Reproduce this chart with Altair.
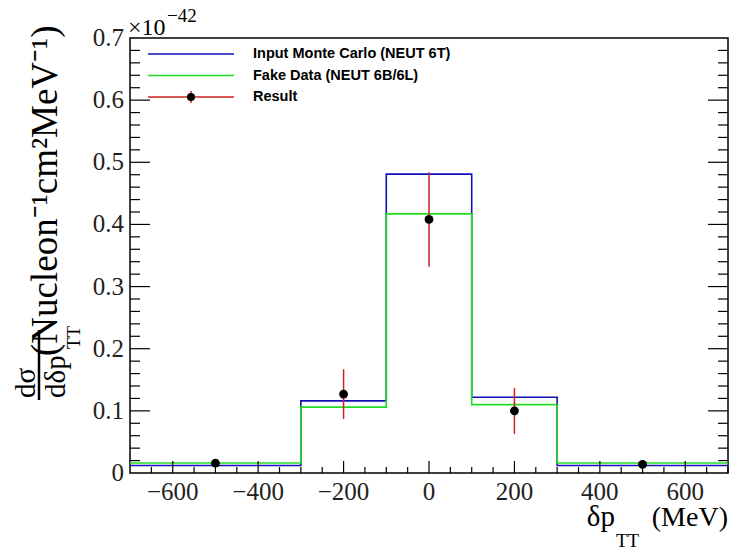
import altair as alt
import pandas as pd
import numpy as np

# ---------------- data (units of 1e-42) ----------------
bin_edges = [-700, -300, -100, 100, 300, 700]
mc_values = [0.012, 0.116, 0.481, 0.122, 0.012]      # Input Monte Carlo (NEUT 6T)
fake_values = [0.016, 0.106, 0.417, 0.110, 0.016]    # Fake Data (NEUT 6B/6L)
result_x = [-500, -200, 0, 200, 500]
result_y = [0.016, 0.127, 0.408, 0.100, 0.014]
result_lo = [0.013, 0.087, 0.332, 0.063, 0.011]
result_hi = [0.019, 0.167, 0.484, 0.137, 0.017]

x_tick_labels = [-600, -400, -200, 0, 200, 400, 600]
y_tick_labels = [0, 0.1, 0.2, 0.3, 0.4, 0.5, 0.6, 0.7]
x_minor_ticks = list(range(-650, 701, 50))
y_minor_ticks = [round(v, 2) for v in np.arange(0.02, 0.7, 0.02)]

legend_labels = ["Input Monte Carlo (NEUT 6T)", "Fake Data (NEUT 6B/6L)", "Result"]
legend_colors = ["#1010b8", "#22dd22", "#cc2222"]

# ---------------- layout ----------------
W, H = 598, 435
SERIF = "Liberation Serif"
xs = alt.Scale(domain=[-700, 700], nice=False, zero=False)
ys = alt.Scale(domain=[0, 0.7], nice=False, zero=False)
LABEL_COLOR = "#222"


def step_df(vals):
    return pd.DataFrame({"x": bin_edges, "y": vals + [vals[-1]]})


mc_line = alt.Chart(step_df(mc_values)).mark_line(
    interpolate="step-after", color=legend_colors[0], strokeWidth=1.6
).encode(x=alt.X("x:Q", scale=xs, axis=None), y=alt.Y("y:Q", scale=ys, axis=None))

fake_line = alt.Chart(step_df(fake_values)).mark_line(
    interpolate="step-after", color=legend_colors[1], strokeWidth=1.6
).encode(x=alt.X("x:Q", scale=xs, axis=None), y=alt.Y("y:Q", scale=ys, axis=None))

res_df = pd.DataFrame({"x": result_x, "y": result_y, "lo": result_lo, "hi": result_hi})
err = alt.Chart(res_df).mark_rule(color=legend_colors[2], strokeWidth=1.5).encode(
    x=alt.X("x:Q", scale=xs, axis=None),
    y=alt.Y("lo:Q", scale=ys, axis=None), y2="hi:Q")
pts = alt.Chart(res_df).mark_circle(size=78, color="black", opacity=1).encode(
    x=alt.X("x:Q", scale=xs, axis=None), y=alt.Y("y:Q", scale=ys, axis=None))


# ---------------- inward ticks ----------------
def yticks(vals, length, side):
    d = pd.DataFrame({"v": vals})
    if side == "left":
        xa, xb = 0, length
    else:
        xa, xb = W, W - length
    return alt.Chart(d).mark_rule(color="black", strokeWidth=1.2).encode(
        y=alt.Y("v:Q", scale=ys, axis=None), x=alt.value(xa), x2=alt.value(xb))


def xticks(vals, length):
    d = pd.DataFrame({"v": vals})
    return alt.Chart(d).mark_rule(color="black", strokeWidth=1.2).encode(
        x=alt.X("v:Q", scale=xs, axis=None), y=alt.value(H), y2=alt.value(H - length))


x_major = list(x_tick_labels)
x_minor = [v for v in x_minor_ticks if v not in x_tick_labels]
y_major = y_tick_labels[1:-1]
y_minor = [v for v in y_minor_ticks if abs(v * 10 - round(v * 10)) > 1e-6]

tick_layers = [
    yticks(y_major, 20, "left"), yticks(y_minor, 10, "left"),
    yticks(y_major, 20, "right"), yticks(y_minor, 10, "right"),
    xticks(x_major, 12), xticks(x_minor, 6),
]

# ---------------- tick labels ----------------
xl_df = pd.DataFrame({"v": x_tick_labels,
                      "t": [str(v).replace("-", "\u2212") for v in x_tick_labels]})
yl_df = pd.DataFrame({"v": y_tick_labels,
                      "t": ["0" if v == 0 else f"{v:.1f}" for v in y_tick_labels]})

x_labels = alt.Chart(xl_df).mark_text(
    font=SERIF, fontSize=25, color=LABEL_COLOR, align="center", baseline="alphabetic"
).encode(x=alt.X("v:Q", scale=xs, axis=None), y=alt.value(H + 27), text="t:N")

y_labels = alt.Chart(yl_df).mark_text(
    font=SERIF, fontSize=25, color=LABEL_COLOR, align="right", baseline="middle"
).encode(y=alt.Y("v:Q", scale=ys, axis=None), x=alt.value(-6), text="t:N")

one = pd.DataFrame({"a": [0]})


def txt(text, x, y, size, font=SERIF, align="left", baseline="alphabetic", angle=0,
        weight="normal", color="black"):
    return alt.Chart(one).mark_text(
        text=text, font=font, fontSize=size, align=align, baseline=baseline,
        angle=angle, fontWeight=weight, color=color
    ).encode(x=alt.value(x), y=alt.value(y))


# ---------------- annotations ----------------
ann = [
    # exponent
    txt("×10", -2, -3, 24),
    txt("−42", 37, -16, 19),
    # x title
    txt("(MeV)", 598, 488, 28, align="right"),
    txt("δp", 485, 488, 29, align="right"),
    txt("TT", 486, 509, 19),
    # y title (rotated)
    txt("dσ", -95, 360, 29, angle=270),
    txt("dδp", -65, 360, 29, angle=270),
    txt("TT", -50, 311, 19, angle=270),
    txt("(Nucleon⁻¹cm²MeV⁻¹)", -73, 318, 37, angle=270),
    alt.Chart(one).mark_rule(color="black", strokeWidth=2.5).encode(
        x=alt.value(-91), y=alt.value(292), y2=alt.value(362)),
]

# ---------------- legend ----------------
leg = []
for i, (lab, col) in enumerate(zip(legend_labels, legend_colors)):
    ly = 16 + 21.5 * i
    leg.append(alt.Chart(one).mark_rule(color=col, strokeWidth=1.6).encode(
        x=alt.value(18), x2=alt.value(104), y=alt.value(ly)))
    leg.append(txt(lab, 123, ly, 14.5, font="Liberation Sans", baseline="middle", weight="bold"))
    if lab == "Result":
        leg.append(alt.Chart(one).mark_rule(color=col, strokeWidth=1.5).encode(
            x=alt.value(61), y=alt.value(ly - 6), y2=alt.value(ly + 6)))
        leg.append(alt.Chart(one).mark_circle(size=65, color="black", opacity=1).encode(
            x=alt.value(61), y=alt.value(ly)))

chart = alt.layer(
    mc_line, fake_line, err, pts, *tick_layers, x_labels, y_labels, *ann, *leg
).properties(
    width=W, height=H,
    autosize=alt.AutoSizeParams(type="none"),
    padding={"left": 130, "top": 38, "right": 5, "bottom": 76},
    background="white",
).configure_view(stroke="black", strokeWidth=1.5)

chart.save("out.html", embed_options={"renderer": "svg", "actions": False})
